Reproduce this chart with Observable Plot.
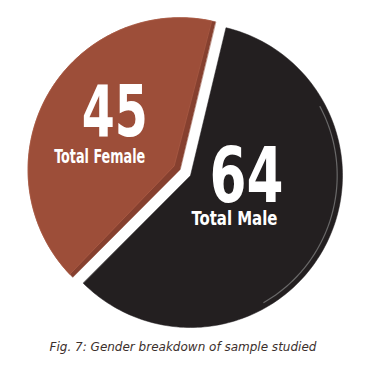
<!DOCTYPE html>
<html><head><meta charset="utf-8">
<script src="https://cdn.jsdelivr.net/npm/d3@7"></script>
<script src="https://cdn.jsdelivr.net/npm/@observablehq/plot@0.6"></script>
<style>
body{margin:0;background:#fff;}
#cap{width:366px;text-align:center;font:italic 12px "DejaVu Sans",Verdana,sans-serif;color:#3b2f2c;height:36px;line-height:30px;}
</style></head><body><div id="chart"></div><div id="cap"></div>
<script>
const categories = ["Female", "Male"];
const values = [45, 64];
const labels = ["Total Female", "Total Male"];
const captionText = "Fig. 7: Gender breakdown of sample studied";

const colors = ["#9d4e39", "#231f20"];
const bevel = "#86402f";
const W = 366, H = 332, cx = 190, cy = 175, R = 152;
const deg = Math.PI / 180;
const a0 = 13.5 * deg - 2 * Math.PI * values[0] / d3.sum(values);
const arcs = d3.pie().sort(null).startAngle(a0).endAngle(a0 + 2 * Math.PI)(values);
const explode = [12 / R, 0];

function wedge(p, i, apexShift, trim, key) {
  const mid = (p.startAngle + p.endAngle) / 2;
  const ox = Math.sin(mid) * explode[i], oy = Math.cos(mid) * explode[i];
  const pts = [{k: key, x: ox + Math.sin(mid) * apexShift, y: oy + Math.cos(mid) * apexShift}];
  const s = p.startAngle + trim, e = p.endAngle - trim, n = 160;
  for (let j = 0; j <= n; j++) {
    const a = s + (e - s) * j / n;
    pts.push({k: key, x: ox + Math.sin(a), y: oy + Math.cos(a)});
  }
  return pts;
}

const femaleBase = wedge(arcs[0], 0, 0, 0, "fb");
const femaleFace = wedge(arcs[0], 0, 7 / R, 1.6 * deg, "ff");
const male = wedge(arcs[1], 1, 0, 0, "m");
const rim = [];
for (let j = 0; j <= 80; j++) {
  const a = (62 + (150 - 62) * j / 80) * deg;
  rim.push({x: 0.965 * Math.sin(a), y: 0.965 * Math.cos(a)});
}

const labelR = [0.59, 0.32];
const labelRot = [0, -14 * deg];
const numOff = [[13, -12.5], [9, -11]];
const labOff = [[-2, 31], [-3, 30.5]];
const rows = arcs.map((p, i) => {
  const m0 = (p.startAngle + p.endAngle) / 2;
  const mid = m0 + labelRot[i];
  const ax = Math.sin(m0) * explode[i] + Math.sin(mid) * labelR[i];
  const ay = Math.cos(m0) * explode[i] + Math.cos(mid) * labelR[i];
  return {cat: categories[i], value: values[i], label: labels[i],
          nx: ax + numOff[i][0] / R, ny: ay - numOff[i][1] / R,
          lx: ax + labOff[i][0] / R, ly: ay - labOff[i][1] / R};
});

const font = "'DejaVu Sans Condensed','DejaVu Sans',sans-serif";
const chart = Plot.plot({
  width: W, height: H,
  margin: 0,
  x: {domain: [-cx / R, (W - cx) / R], axis: null},
  y: {domain: [-(H - cy) / R, cy / R], axis: null},
  style: {background: "#fff"},
  marks: [
    Plot.line(male, {x: "x", y: "y", fill: colors[1], stroke: colors[1], strokeWidth: 0.5, curve: "linear-closed"}),
    Plot.line(rim, {x: "x", y: "y", stroke: "#7a7a7a", strokeWidth: 1.2, strokeOpacity: 0.8}),
    Plot.line(femaleBase, {x: "x", y: "y", fill: bevel, stroke: bevel, strokeWidth: 0.5, curve: "linear-closed"}),
    Plot.line(femaleFace, {x: "x", y: "y", fill: colors[0], stroke: "#b5634c", strokeWidth: 0.6, curve: "linear-closed"}),
    Plot.text(rows.filter(d => d.cat === "Female"), {x: "nx", y: "ny", text: d => String(d.value), fill: "#fff",
      fontFamily: font, fontWeight: "bold", fontSize: 72, lineAnchor: "middle", textAnchor: "middle"}),
    Plot.text(rows.filter(d => d.cat === "Male"), {x: "nx", y: "ny", text: d => String(d.value), fill: "#fff",
      fontFamily: font, fontWeight: "bold", fontSize: 77, lineAnchor: "middle", textAnchor: "middle"}),
    Plot.text(rows, {x: "lx", y: "ly", text: "label", fill: "#fff",
      fontFamily: font, fontWeight: "bold", fontSize: 20, lineAnchor: "middle", textAnchor: "middle"})
  ]
});
const widths = {"45": 66, "64": 74, "Total Female": 91, "Total Male": 86};
chart.querySelectorAll("text").forEach(t => {
  t.style.fontStretch = "condensed";
  const w = widths[t.textContent.trim()];
  if (w) { t.setAttribute("textLength", w); t.setAttribute("lengthAdjust", "spacingAndGlyphs"); }
});
document.getElementById("chart").append(chart);
document.getElementById("cap").textContent = captionText;
</script></body></html>
